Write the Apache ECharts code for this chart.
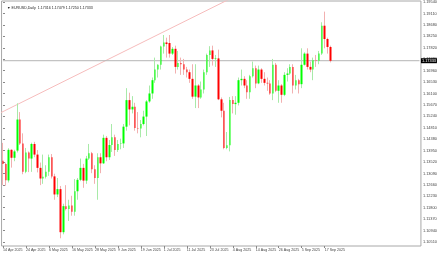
<!DOCTYPE html>
<html><head><meta charset="utf-8">
<script src="https://cdn.jsdelivr.net/npm/echarts@6/dist/echarts.min.js"></script>
<style>html,body{margin:0;padding:0;background:#fff}#c{width:440px;height:254px}</style>
</head><body><div id="c"></div>
<script>
const dates = [
'14 Apr 2025','15 Apr 2025','16 Apr 2025','17 Apr 2025','18 Apr 2025','21 Apr 2025','22 Apr 2025','23 Apr 2025','24 Apr 2025','25 Apr 2025','28 Apr 2025','29 Apr 2025','30 Apr 2025',
'1 May 2025','2 May 2025','5 May 2025','6 May 2025','7 May 2025','8 May 2025','9 May 2025','12 May 2025','13 May 2025','14 May 2025','15 May 2025','16 May 2025','19 May 2025','20 May 2025','21 May 2025','22 May 2025','23 May 2025','26 May 2025','27 May 2025','28 May 2025','29 May 2025','30 May 2025',
'2 Jun 2025','3 Jun 2025','4 Jun 2025','5 Jun 2025','6 Jun 2025','9 Jun 2025','10 Jun 2025','11 Jun 2025','12 Jun 2025','13 Jun 2025','16 Jun 2025','17 Jun 2025','18 Jun 2025','19 Jun 2025','20 Jun 2025','23 Jun 2025','24 Jun 2025','25 Jun 2025','26 Jun 2025','27 Jun 2025','30 Jun 2025',
'1 Jul 2025','2 Jul 2025','3 Jul 2025','4 Jul 2025','7 Jul 2025','8 Jul 2025','9 Jul 2025','10 Jul 2025','11 Jul 2025','14 Jul 2025','15 Jul 2025','16 Jul 2025','17 Jul 2025','18 Jul 2025','21 Jul 2025','22 Jul 2025','23 Jul 2025','24 Jul 2025','25 Jul 2025','28 Jul 2025','29 Jul 2025','30 Jul 2025','31 Jul 2025',
'1 Aug 2025','4 Aug 2025','5 Aug 2025','6 Aug 2025','7 Aug 2025','8 Aug 2025','11 Aug 2025','12 Aug 2025','13 Aug 2025','14 Aug 2025','15 Aug 2025','18 Aug 2025','19 Aug 2025','20 Aug 2025','21 Aug 2025','22 Aug 2025','25 Aug 2025','26 Aug 2025','27 Aug 2025','28 Aug 2025','29 Aug 2025',
'1 Sep 2025','2 Sep 2025','3 Sep 2025','4 Sep 2025','5 Sep 2025','8 Sep 2025','9 Sep 2025','10 Sep 2025','11 Sep 2025','12 Sep 2025','15 Sep 2025','16 Sep 2025','17 Sep 2025','18 Sep 2025','19 Sep 2025'
];
const openP = [
1.1357,1.1345,1.1283,1.1398,1.1368,1.1395,1.1512,1.1422,1.1315,1.1388,1.1365,1.1420,1.1380,
1.1330,1.1290,1.1297,1.1315,1.1370,1.1298,1.1230,1.1250,1.1088,1.1186,1.1175,1.1188,1.1165,1.1242,1.1285,1.1330,1.1282,1.1365,1.1385,1.1325,1.1292,1.1370,
1.1347,1.1443,1.1370,1.1416,1.1445,1.1397,1.1420,1.1422,1.1485,1.1585,1.1550,1.1560,1.1480,1.1478,1.1495,1.1523,1.1580,1.1610,1.1660,1.1700,1.1718,
1.1787,1.1802,1.1800,1.1760,1.1778,1.1710,1.1725,1.1720,1.1700,1.1690,1.1665,1.1598,1.1640,1.1595,1.1625,1.1690,1.1755,1.1772,1.1740,1.1742,1.1588,1.1545,1.1405,
1.1415,1.1585,1.1570,1.1575,1.1660,1.1665,1.1640,1.1615,1.1675,1.1705,1.1648,1.1700,1.1665,1.1650,1.1648,1.1610,1.1718,1.1620,1.1640,1.1605,1.1680,
1.1685,1.1710,1.1640,1.1660,1.1645,1.1718,1.1760,1.1710,1.1700,1.1735,1.1733,1.1760,1.1865,1.1815,1.1785
];
const highP = [
1.1424,1.1350,1.1404,1.1400,1.1398,1.1573,1.1540,1.1460,1.1405,1.1392,1.1425,1.1428,1.1397,
1.1350,1.1380,1.1340,1.1380,1.1382,1.1308,1.1292,1.1262,1.1195,1.1265,1.1210,1.1225,1.1288,1.1292,1.1365,1.1345,1.1375,1.1420,1.1390,1.1340,1.1385,1.1385,
1.1455,1.1450,1.1435,1.1495,1.1455,1.1435,1.1440,1.1495,1.1630,1.1613,1.1600,1.1575,1.1540,1.1510,1.1545,1.1585,1.1640,1.1670,1.1745,1.1720,1.1790,
1.1830,1.1820,1.1830,1.1785,1.1790,1.1770,1.1745,1.1740,1.1710,1.1700,1.1720,1.1720,1.1645,1.1655,1.1700,1.1760,1.1788,1.1790,1.1755,1.1775,1.1595,1.1575,1.1465,
1.1597,1.1600,1.1600,1.1670,1.1700,1.1675,1.1660,1.1680,1.1730,1.1715,1.1715,1.1705,1.1690,1.1670,1.1660,1.1740,1.1725,1.1660,1.1645,1.1690,1.1705,
1.1720,1.1720,1.1680,1.1665,1.1780,1.1765,1.1780,1.1730,1.1745,1.1755,1.1770,1.1878,1.1918,1.1820,1.1790
];
const lowP = [
1.1265,1.1263,1.1275,1.1331,1.1355,1.1388,1.1416,1.1306,1.1310,1.1314,1.1315,1.1370,1.1313,
1.1265,1.1270,1.1290,1.1300,1.1290,1.1210,1.1220,1.1065,1.1080,1.1170,1.1130,1.1150,1.1150,1.1210,1.1280,1.1255,1.1270,1.1360,1.1310,1.1270,1.1210,1.1310,
1.1345,1.1355,1.1360,1.1390,1.1375,1.1390,1.1400,1.1405,1.1470,1.1490,1.1535,1.1470,1.1460,1.1445,1.1490,1.1450,1.1575,1.1590,1.1650,1.1670,1.1700,
1.1760,1.1745,1.1745,1.1755,1.1685,1.1700,1.1680,1.1680,1.1670,1.1650,1.1590,1.1555,1.1555,1.1590,1.1610,1.1680,1.1710,1.1715,1.1710,1.1585,1.1520,1.1400,1.1400,
1.1392,1.1535,1.1530,1.1565,1.1640,1.1630,1.1590,1.1590,1.1670,1.1630,1.1645,1.1650,1.1640,1.1620,1.1605,1.1585,1.1615,1.1575,1.1575,1.1600,1.1655,
1.1680,1.1610,1.1625,1.1610,1.1630,1.1715,1.1700,1.1690,1.1660,1.1710,1.1720,1.1755,1.1780,1.1760,1.1727
];
const closeP = [
1.1345,1.1283,1.1398,1.1368,1.1392,1.1512,1.1422,1.1315,1.1388,1.1365,1.1420,1.1380,1.1330,
1.1290,1.1297,1.1315,1.1370,1.1298,1.1230,1.1250,1.1088,1.1186,1.1175,1.1188,1.1165,1.1242,1.1285,1.1330,1.1282,1.1365,1.1385,1.1325,1.1292,1.1370,1.1347,
1.1443,1.1370,1.1416,1.1445,1.1397,1.1420,1.1422,1.1485,1.1585,1.1550,1.1560,1.1480,1.1478,1.1495,1.1523,1.1580,1.1610,1.1660,1.1700,1.1718,1.1787,
1.1802,1.1796,1.1760,1.1778,1.1710,1.1725,1.1720,1.1700,1.1690,1.1665,1.1598,1.1640,1.1595,1.1625,1.1690,1.1755,1.1772,1.1740,1.1742,1.1588,1.1545,1.1405,1.1415,
1.1585,1.1570,1.1575,1.1660,1.1665,1.1640,1.1615,1.1675,1.1705,1.1648,1.1700,1.1665,1.1650,1.1648,1.1610,1.1718,1.1620,1.1640,1.1605,1.1680,1.1685,
1.1710,1.1640,1.1660,1.1645,1.1718,1.1760,1.1710,1.1700,1.1735,1.1733,1.1760,1.1865,1.1815,1.1785,1.1733
];
const priceTicks = [1.1954,1.1911,1.1868,1.1825,1.1782,1.1739,1.1696,1.1653,1.1610,1.1567,1.1524,1.1481,1.1438,1.1395,1.1352,1.1309,1.1266,1.1223,1.1180,1.1137,1.1094,1.1051];
const dateLabelEvery = 8;
const currentPrice = 1.17333;
const trendLine = [[-5, 1.1515], [90, 1.2025]];
const titleText = '\u25BC EURUSD,Daily  1.17316 1.17479 1.17250 1.17333';
const totalSlots = 146;

const cats = dates.concat(new Array(totalSlots - dates.length).fill(''));
const wickData = dates.map((d, i) => [openP[i], closeP[i], lowP[i], highP[i]]);
const bodyData = dates.map((d, i) => [openP[i], closeP[i], Math.min(openP[i], closeP[i]), Math.max(openP[i], closeP[i])]);

const chart = echarts.init(document.getElementById('c'), null, {renderer: 'canvas'});
const font = 'Liberation Sans';
chart.setOption({
  animation: false,
  backgroundColor: '#fff',
  title: {text: titleText, left: 2, top: 1, textStyle: {fontSize: 3.6, fontWeight: 'normal', color: '#222', fontFamily: font}},
  grid: {left: 1, right: 17, top: 1, bottom: 8, show: true, borderColor: '#a8a8a8', borderWidth: 1, backgroundColor: '#fff'},
  xAxis: [{
    type: 'category', data: cats, boundaryGap: true,
    axisLine: {show: false},
    axisTick: {show: true, length: 2, alignWithLabel: true, interval: (i, v) => v !== '' && i % dateLabelEvery === 0, lineStyle: {color: '#888'}},
    axisLabel: {show: true, fontSize: 3.6, color: '#444', fontFamily: font, align: 'left', margin: 2,
      interval: (i, v) => v !== '' && i % dateLabelEvery === 0},
    splitLine: {show: false}
  }, {
    type: 'value', min: -0.5, max: totalSlots - 0.5, show: false
  }],
  yAxis: {
    type: 'value', position: 'right', min: 1.1036, max: 1.1958,
    axisLine: {show: false},
    axisTick: {show: true, length: 2, customValues: priceTicks, lineStyle: {color: '#888'}},
    axisLabel: {show: true, customValues: priceTicks, fontSize: 3.9, color: '#444', fontFamily: font, margin: 2,
      formatter: v => v.toFixed(5)},
    splitLine: {show: false}
  },
  series: [{
    type: 'line', xAxisIndex: 1, data: trendLine, symbol: 'none', clip: true,
    lineStyle: {color: '#f6bcbc', width: 1}, silent: true, z: 1
  }, {
    type: 'line', xAxisIndex: 1, data: [[0, currentPrice], [totalSlots - 1, currentPrice]], symbol: 'none', clip: false,
    lineStyle: {color: '#b4b4b4', width: 1}, silent: true, z: 1,
    markPoint: {
      silent: true, symbol: 'rect', symbolSize: [16, 5], itemStyle: {color: '#000'},
      label: {show: true, formatter: () => currentPrice.toFixed(5), color: '#fff', fontSize: 3.9, fontFamily: font},
      data: [{coord: [totalSlots - 0.5, currentPrice], symbolOffset: [8, 0]}]
    }
  }, {
    type: 'candlestick', data: wickData, barWidth: 1,
    itemStyle: {color: 'rgba(0,0,0,0)', color0: 'rgba(0,0,0,0)', borderColor: '#a8eaa8', borderColor0: '#f2b0b0', borderWidth: 1},
    z: 2
  }, {
    type: 'candlestick', data: bodyData, barWidth: 2,
    itemStyle: {color: '#00ff00', color0: '#ff0000', borderColor: '#00ff00', borderColor0: '#ff0000', borderWidth: 0},
    z: 3
  }]
});
</script></body></html>
